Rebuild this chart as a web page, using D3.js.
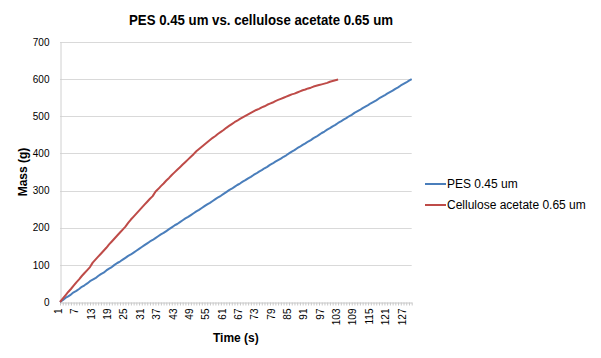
<!DOCTYPE html>
<html>
<head>
<meta charset="utf-8">
<script src="https://cdn.jsdelivr.net/npm/d3@7"></script>
<style>
  body { margin: 0; background: #fff; }
  text { font-family: "Liberation Sans", Arial, sans-serif; fill: #000; }
</style>
</head>
<body>
<script>
const WIDTH = 601;
const HEIGHT = 358;
const MARGIN = { top: 42, right: 190, bottom: 56, left: 60 };

const TITLE = "PES 0.45 um vs. cellulose acetate 0.65 um";
const SERIES_NAMES = ["PES 0.45 um", "Cellulose acetate 0.65 um"];
const SERIES_COLORS = ["#4a7ebb", "#be4b48"];
const Y_TICKS = [0, 100, 200, 300, 400, 500, 600, 700];

// time in seconds, 1..130
const times = d3.range(1, 131);

const pesMass = [
  0, 5, 11, 15, 20, 26, 30, 35, 41, 45, 50, 56, 60, 64, 70, 75, 79, 85, 90, 94,
  100, 105, 109, 114, 119, 124, 128, 133, 138, 143, 148, 153, 158, 163, 167, 172, 177, 182, 186, 191,
  196, 201, 206, 210, 215, 220, 225, 229, 234, 239, 244, 248, 253, 258, 263, 267, 272, 277, 282, 286,
  291, 296, 301, 305, 310, 315, 319, 324, 328, 333, 337, 342, 346, 351, 355, 360, 364, 369, 373, 378,
  382, 386, 391, 395, 400, 405, 409, 414, 418, 423, 427, 432, 436, 441, 445, 450, 455, 459, 464, 468,
  473, 477, 482, 486, 491, 495, 500, 504, 509, 513, 517, 522, 526, 530, 535, 539, 543, 548, 552, 556,
  561, 565, 569, 574, 578, 583, 587, 591, 596, 600
];

const celluloseMass = [
  0, 9, 18, 27, 35, 44, 53, 61, 70, 78, 86, 94, 106, 114, 122, 130, 138, 146, 155, 163,
  171, 179, 187, 195, 203, 213, 222, 230, 238, 246, 254, 262, 270, 278, 285, 297, 304, 312, 319, 327,
  334, 342, 349, 356, 363, 370, 377, 384, 391, 398, 406, 412, 418, 424, 430, 436, 442, 447, 453, 458,
  463, 469, 474, 479, 484, 488, 493, 497, 501, 505, 509, 513, 517, 520, 524, 527, 531, 534, 537, 541,
  544, 547, 550, 553, 556, 559, 561, 564, 567, 570, 572, 575, 577, 580, 582, 584, 586, 588, 590, 593,
  595, 597, 599
];

const series = [pesMass, celluloseMass];

const svg = d3.select("body").append("svg")
  .attr("width", WIDTH)
  .attr("height", HEIGHT);

const plotRight = WIDTH - MARGIN.right + 0.7;
const plotBottom = HEIGHT - MARGIN.bottom;

const xScale = d3.scalePoint()
  .domain(times)
  .range([MARGIN.left, plotRight]);

const yScale = d3.scaleLinear()
  .domain([0, 700])
  .range([plotBottom, MARGIN.top]);

// gridlines
svg.append("g")
  .selectAll("line")
  .data(Y_TICKS.slice(1))
  .join("line")
  .attr("x1", MARGIN.left)
  .attr("x2", plotRight)
  .attr("y1", d => Math.round(yScale(d)) + 0.5)
  .attr("y2", d => Math.round(yScale(d)) + 0.5)
  .attr("stroke", "#d9d9d9")
  .attr("stroke-width", 1);

// y axis
const yAxis = svg.append("g")
  .attr("transform", `translate(${MARGIN.left + 0.5},0)`)
  .call(d3.axisLeft(yScale).tickValues(Y_TICKS).tickSize(0).tickPadding(11));
yAxis.select(".domain").attr("stroke", "#d0d0d0");
yAxis.selectAll("text")
  .attr("font-size", 10)
  .attr("font-family", "Liberation Sans, Arial, sans-serif")
  .attr("fill", "#333");

// x axis, a tick for every second, a label every 6
const xAxis = svg.append("g")
  .attr("transform", `translate(0,${Math.round(plotBottom) + 0.5})`)
  .call(d3.axisBottom(xScale).tickSize(3).tickSizeOuter(0)
    .tickFormat(t => ((t - 1) % 6 === 0 ? t : "")));
xAxis.select(".domain").attr("stroke", "#c8c8c8");
xAxis.selectAll(".tick line").attr("stroke", "#c8c8c8");
xAxis.selectAll("text")
  .attr("font-size", 10)
  .attr("font-family", "Liberation Sans, Arial, sans-serif")
  .attr("fill", "#333")
  .attr("text-anchor", "end")
  .attr("transform", "rotate(-90)")
  .attr("x", -6)
  .attr("y", -2)
  .attr("dy", "0.35em");

// lines
const line = d3.line()
  .x((d, i) => xScale(times[i]))
  .y(d => yScale(d));

svg.append("g")
  .selectAll("path")
  .data(series)
  .join("path")
  .attr("d", line)
  .attr("fill", "none")
  .attr("stroke", (d, i) => SERIES_COLORS[i])
  .attr("stroke-width", 2)
  .attr("stroke-linejoin", "round");

// title
svg.append("text")
  .attr("x", 261)
  .attr("y", 25)
  .attr("text-anchor", "middle")
  .attr("font-size", 15)
  .attr("font-weight", "bold")
  .attr("textLength", 264)
  .attr("lengthAdjust", "spacingAndGlyphs")
  .text(TITLE);

// axis titles
svg.append("text")
  .attr("x", (MARGIN.left + plotRight) / 2)
  .attr("y", 342)
  .attr("text-anchor", "middle")
  .attr("font-size", 12)
  .attr("font-weight", "bold")
  .text("Time (s)");

svg.append("text")
  .attr("transform", `translate(27,${(MARGIN.top + plotBottom) / 2}) rotate(-90)`)
  .attr("text-anchor", "middle")
  .attr("font-size", 12)
  .attr("font-weight", "bold")
  .text("Mass (g)");

// legend
const legend = svg.append("g")
  .selectAll("g")
  .data(SERIES_NAMES)
  .join("g")
  .attr("transform", (d, i) => `translate(425,${184 + i * 21})`);

legend.append("line")
  .attr("x1", 0)
  .attr("x2", 21)
  .attr("stroke", (d, i) => SERIES_COLORS[i])
  .attr("stroke-width", 2);

legend.append("text")
  .attr("x", 22)
  .attr("dy", "0.35em")
  .attr("font-size", 12)
  .text(d => d);
</script>
</body>
</html>
